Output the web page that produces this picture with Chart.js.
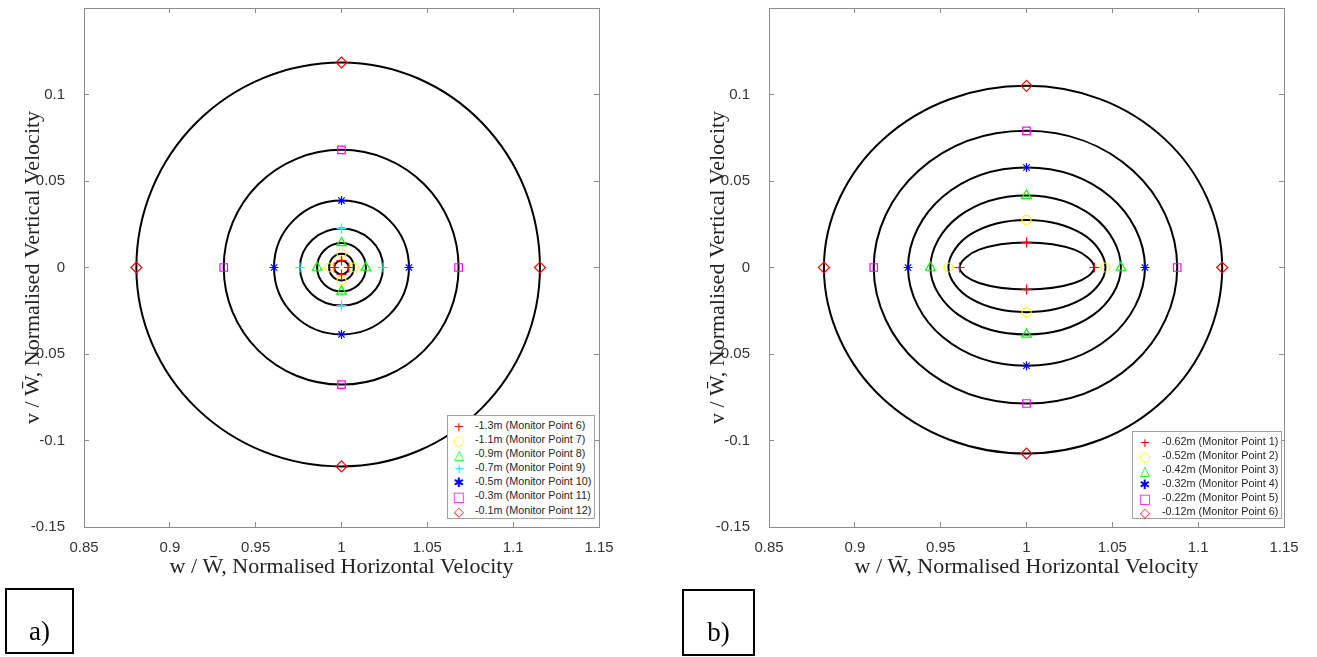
<!DOCTYPE html>
<html lang="en">

<head>
    <meta charset="UTF-8">
    <title>Normalised velocity loops</title>
    <script src="https://cdn.jsdelivr.net/npm/chart.js@4.4.1/dist/chart.umd.min.js"></script>
    <style>
        body {
            margin: 0;
            background: #fff;
            width: 1317px;
            height: 657px;
            position: relative;
            overflow: hidden;
        }

        .panel {
            position: absolute;
            top: 0;
            width: 620px;
            height: 590px;
        }

        .key {
            position: absolute;
            background: #fff;
            border: 1px solid #a0a0a0;
            box-sizing: border-box;
            padding-top: 3px;
            font: 10.8px 'Liberation Sans', Arial, sans-serif;
            color: #262626;
        }

        .key div {
            height: 14.1px;
            line-height: 14.1px;
            white-space: nowrap;
        }

        .key span {
            display: inline-block;
            text-align: center;
            font: 13px 'DejaVu Sans', sans-serif;
            vertical-align: top;
        }

        .tag {
            position: absolute;
            border: 2px solid #000;
            box-sizing: border-box;
            font: 27px 'Liberation Serif', 'Times New Roman', serif;
            color: #000;
            text-align: center;
            padding-top: 26px;
        }
    </style>
</head>

<body>
    <div class="panel" style="left:0"><canvas id="chrtA"></canvas></div>
    <div class="panel" style="left:685px"><canvas id="chrtB"></canvas></div>
    <div class="key" id="keyA" style="left:447px;top:415px;width:148px;height:104px"></div>
    <div class="key" id="keyB" style="left:1132px;top:431px;width:150px;height:88px"></div>
    <div class="tag" style="left:5px;top:588px;width:69px;height:66px">a)</div>
    <div class="tag" style="left:682px;top:589px;width:73px;height:67px">b)</div>

    <script>
        // ---- panel a) : monitor points 6..12 ----
        const labelsA = ['-1.3m (Monitor Point 6)', '-1.1m (Monitor Point 7)', '-0.9m (Monitor Point 8)',
            '-0.7m (Monitor Point 9)', '-0.5m (Monitor Point 10)', '-0.3m (Monitor Point 11)', '-0.1m (Monitor Point 12)']
        const colorsA = ['#ff0000', '#ffff00', '#00ff00', '#00ffff', '#0000ff', '#ff00ff', '#ff0000']
        const markersA = ['cross', 'circle', 'triangle', 'cross', 'star', 'rect', 'rectRot']
        // where each loop crosses y = 0 (right / left) and x = 1 (top / bottom)
        const rightA = [1.0042, 1.0072, 1.0142, 1.0242, 1.0393, 1.0682, 1.1156]
        const leftA = [0.9958, 0.9928, 0.9858, 0.9758, 0.9607, 0.9314, 0.8805]
        const topA = [0.0040, 0.0080, 0.0142, 0.0225, 0.0387, 0.0680, 0.1185]
        const bottomA = [-0.0040, -0.0075, -0.0138, -0.0220, -0.0387, -0.0677, -0.1150]
        // loop points read on the diagonals
        const upRightA = [[1.0030, 0.0028], [1.0051, 0.0057], [1.0100, 0.0100], [1.0171, 0.0159], [1.0278, 0.0274], [1.0482, 0.0481], [1.0817, 0.0838]]
        const upLeftA = [[0.9970, 0.0028], [0.9949, 0.0057], [0.9900, 0.0100], [0.9829, 0.0159], [0.9722, 0.0274], [0.9515, 0.0481], [0.9155, 0.0838]]
        const lowLeftA = [[0.9970, -0.0028], [0.9949, -0.0053], [0.9900, -0.0098], [0.9829, -0.0156], [0.9722, -0.0274], [0.9515, -0.0479], [0.9155, -0.0813]]
        const lowRightA = [[1.0030, -0.0028], [1.0051, -0.0053], [1.0100, -0.0098], [1.0171, -0.0156], [1.0278, -0.0274], [1.0482, -0.0479], [1.0817, -0.0813]]

        // ---- panel b) : monitor points 1..6 ----
        const labelsB = ['-0.62m (Monitor Point 1)', '-0.52m (Monitor Point 2)', '-0.42m (Monitor Point 3)',
            '-0.32m (Monitor Point 4)', '-0.22m (Monitor Point 5)', '-0.12m (Monitor Point 6)']
        const colorsB = ['#ff0000', '#ffff00', '#00ff00', '#0000ff', '#ff00ff', '#ff0000']
        const markersB = ['cross', 'circle', 'triangle', 'star', 'rect', 'rectRot']
        const rightB = [1.0395, 1.0460, 1.0550, 1.0690, 1.0878, 1.1140]
        const leftB = [0.9610, 0.9545, 0.9440, 0.9310, 0.9110, 0.8820]
        const topB = [0.0145, 0.0275, 0.0416, 0.0578, 0.0790, 0.1050]
        const bottomB = [-0.0127, -0.0258, -0.0387, -0.0568, -0.0786, -0.1075]
        const upRightB = [[1.0279, 0.0103], [1.0325, 0.0194], [1.0389, 0.0294], [1.0488, 0.0409], [1.0621, 0.0559], [1.0806, 0.0742]]
        const upLeftB = [[0.9724, 0.0103], [0.9678, 0.0194], [0.9604, 0.0294], [0.9512, 0.0409], [0.9371, 0.0559], [0.9166, 0.0742]]
        const lowLeftB = [[0.9724, -0.0090], [0.9678, -0.0182], [0.9604, -0.0274], [0.9512, -0.0402], [0.9371, -0.0556], [0.9166, -0.0760]]
        const lowRightB = [[1.0279, -0.0090], [1.0325, -0.0182], [1.0389, -0.0274], [1.0488, -0.0402], [1.0621, -0.0556], [1.0806, -0.0760]]

        const xTitle = 'w / W\u0304, Normalised Horizontal Velocity'
        const yTitle = 'v / W\u0304, Normalised Vertical Velocity'

        // line controller that closes its path (like the radar chart does)
        class ClosedLine extends Chart.LineController {
            update(mode) {
                super.update(mode)
                let line = this._cachedMeta.dataset
                line._loop = true
                line._fullLoop = true
                line.points = line.points
            }
        }
        ClosedLine.id = 'closedLine'
        ClosedLine.defaults = Chart.LineController.defaults
        Chart.register(ClosedLine)

        const glyphs = { cross: '+', circle: '\u25CB', triangle: '\u25B3', star: '\u2731', rect: '\u25A1', rectRot: '\u25C7' }
        const radii = { cross: 5, circle: 4.5, triangle: 5.5, star: 4.5, rect: 5.3, rectRot: 5.5 }

        function fmt(v) {
            return String(Math.round(v * 100) / 100)
        }

        function makeChart(id, labels, colors, markers, right, left, top, bottom, ur, ul, ll, lr) {
            let datasets = []
            labels.forEach((lab, i) => {
                datasets.push({
                    type: 'scatter',
                    label: lab,
                    order: 0,
                    data: [{ x: right[i], y: 0 }, { x: 1, y: top[i] }, { x: left[i], y: 0 }, { x: 1, y: bottom[i] }],
                    pointStyle: markers[i],
                    pointRadius: radii[markers[i]],
                    borderColor: colors[i],
                    backgroundColor: 'rgba(0,0,0,0)',
                    pointBorderWidth: 1.2
                })
            })
            labels.forEach((lab, i) => {
                datasets.push({
                    type: 'closedLine',
                    label: lab + ' loop',
                    order: 1,
                    data: [
                        { x: right[i], y: 0 }, { x: ur[i][0], y: ur[i][1] },
                        { x: 1, y: top[i] }, { x: ul[i][0], y: ul[i][1] },
                        { x: left[i], y: 0 }, { x: ll[i][0], y: ll[i][1] },
                        { x: 1, y: bottom[i] }, { x: lr[i][0], y: lr[i][1] }
                    ],
                    borderColor: '#000',
                    borderWidth: 2,
                    tension: 0.375,
                    pointRadius: 0,
                    pointHitRadius: 0,
                    fill: false
                })
            })

            let tickFont = { family: "'Liberation Sans', Arial, sans-serif", size: 15 }
            let titleFont = { family: "'Liberation Serif', 'Times New Roman', serif", size: 22 }
            let edge = '#8c8c8c'

            return new Chart(document.getElementById(id), {
                type: 'scatter',
                data: { datasets: datasets },
                options: {
                    responsive: true,
                    maintainAspectRatio: false,
                    animation: false,
                    layout: { padding: { left: 0, right: 21, top: 8, bottom: 0 } },
                    plugins: { legend: { display: false }, tooltip: { enabled: false } },
                    scales: {
                        x: {
                            type: 'linear', position: 'bottom', min: 0.85, max: 1.15,
                            ticks: { stepSize: 0.05, font: tickFont, color: '#333', padding: 17, maxRotation: 0, callback: v => fmt(v) },
                            grid: { drawOnChartArea: false, tickLength: -5, color: edge },
                            border: { color: edge, width: 1 },
                            title: { display: true, text: xTitle, font: titleFont, color: '#222', padding: { bottom: 10 } },
                            afterFit: s => { s.height = 63; s.paddingLeft = 0; s.paddingRight = 0 }
                        },
                        y: {
                            type: 'linear', position: 'left', min: -0.15, max: 0.15,
                            ticks: { stepSize: 0.05, font: tickFont, color: '#333', padding: 24, callback: v => Math.abs(v - 0.15) < 1e-9 ? '' : fmt(v) },
                            grid: { drawOnChartArea: false, tickLength: -5, color: edge },
                            border: { color: edge, width: 1 },
                            title: { display: true, text: yTitle, font: titleFont, color: '#222', padding: { top: 20 } },
                            afterFit: s => { s.width = 84; s.paddingTop = 0; s.paddingBottom = 0 }
                        },
                        x2: {
                            type: 'linear', position: 'top', min: 0.85, max: 1.15,
                            ticks: { stepSize: 0.05, display: false },
                            grid: { drawOnChartArea: false, tickLength: -5, color: edge },
                            border: { color: edge, width: 1 },
                            afterFit: s => { s.height = 0; s.paddingLeft = 0; s.paddingRight = 0 }
                        },
                        y2: {
                            type: 'linear', position: 'right', min: -0.15, max: 0.15,
                            ticks: { stepSize: 0.05, display: false },
                            grid: { drawOnChartArea: false, tickLength: -5, color: edge },
                            border: { color: edge, width: 1 },
                            afterFit: s => { s.width = 0; s.paddingTop = 0; s.paddingBottom = 0 }
                        }
                    }
                }
            })
        }

        function makeKey(id, labels, colors, markers, markW) {
            let box = document.getElementById(id)
            labels.forEach((lab, i) => {
                let row = document.createElement('div')
                let g = document.createElement('span')
                g.style.width = markW + 'px'
                g.style.color = colors[i]
                g.textContent = glyphs[markers[i]]
                let t = document.createElement('span')
                t.style.font = "10.8px 'Liberation Sans', Arial, sans-serif"
                t.style.textAlign = 'left'
                t.style.marginLeft = '5px'
                t.textContent = lab
                row.appendChild(g)
                row.appendChild(t)
                box.appendChild(row)
            })
        }

        makeChart('chrtA', labelsA, colorsA, markersA, rightA, leftA, topA, bottomA, upRightA, upLeftA, lowLeftA, lowRightA)
        makeChart('chrtB', labelsB, colorsB, markersB, rightB, leftB, topB, bottomB, upRightB, upLeftB, lowLeftB, lowRightB)
        makeKey('keyA', labelsA, colorsA, markersA, 22)
        makeKey('keyB', labelsB, colorsB, markersB, 24)
    </script>

</body>

</html>
